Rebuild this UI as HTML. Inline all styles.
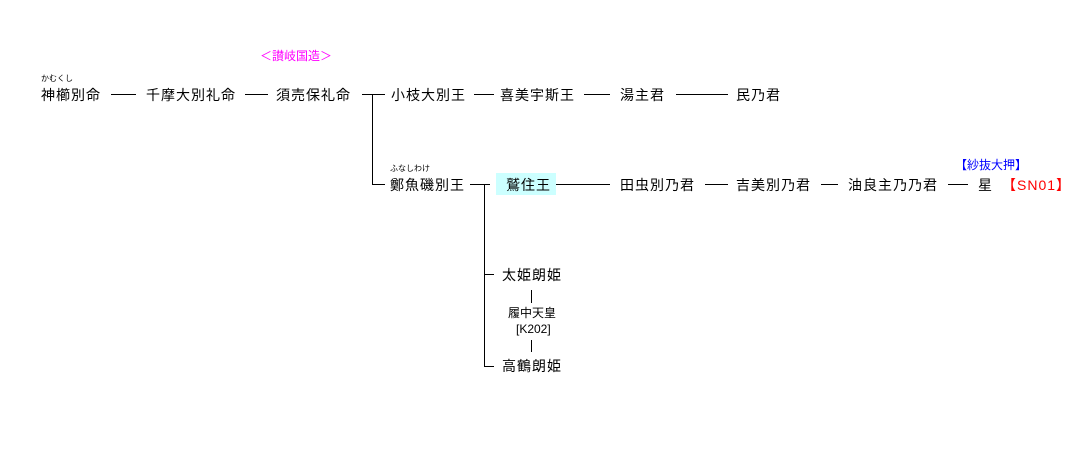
<!DOCTYPE html>
<html><head><meta charset="utf-8"><style>
body{margin:0;width:1070px;height:454px;background:#fff;position:relative;overflow:hidden;font-family:"Liberation Sans","Noto Sans CJK JP",sans-serif;color:#000}
.t{position:absolute;font-size:14px;letter-spacing:1px;line-height:16px;white-space:nowrap}
.s{position:absolute;font-size:12px;line-height:13px;white-space:nowrap}
.r{position:absolute;font-size:8px;line-height:9px;white-space:nowrap}
.h{position:absolute;height:1px;background:#000}
.v{position:absolute;width:1px;background:#000}
</style></head><body>
<div class="s" style="left:260px;top:50px;color:#f0f">＜讃岐国造＞</div>
<div class="r" style="left:41px;top:74px">かむくし</div>
<div class="t" style="left:41px;top:87px">神櫛別命</div>
<div class="h" style="left:111px;top:94px;width:25px"></div>
<div class="t" style="left:146px;top:87px">千摩大別礼命</div>
<div class="h" style="left:245px;top:94px;width:23px"></div>
<div class="t" style="left:276px;top:87px">須売保礼命</div>
<div class="h" style="left:362px;top:94px;width:23px"></div>
<div class="v" style="left:372px;top:94px;height:91px"></div>
<div class="t" style="left:391px;top:87px">小枝大別王</div>
<div class="h" style="left:474px;top:94px;width:20px"></div>
<div class="t" style="left:500px;top:87px">喜美宇斯王</div>
<div class="h" style="left:584px;top:94px;width:26px"></div>
<div class="t" style="left:620px;top:87px">湯主君</div>
<div class="h" style="left:676px;top:94px;width:52px"></div>
<div class="t" style="left:736px;top:87px">民乃君</div>

<div class="h" style="left:372px;top:184px;width:13px"></div>
<div class="r" style="left:390px;top:164px">ふなしわけ</div>
<div class="t" style="left:390px;top:177px">鄭魚磯別王</div>
<div class="h" style="left:470px;top:184px;width:20px"></div>
<div style="position:absolute;left:496px;top:173px;width:60px;height:22px;background:#ccffff"></div>
<div class="t" style="left:506px;top:177px">鷲住王</div>
<div class="h" style="left:556px;top:184px;width:54px"></div>
<div class="t" style="left:620px;top:177px">田虫別乃君</div>
<div class="h" style="left:705px;top:184px;width:23px"></div>
<div class="t" style="left:736px;top:177px">吉美別乃君</div>
<div class="h" style="left:821px;top:184px;width:17px"></div>
<div class="t" style="left:848px;top:177px">油良主乃乃君</div>
<div class="h" style="left:948px;top:184px;width:20px"></div>
<div class="s" style="left:955px;top:159px;color:#00f">【紗抜大押】</div>
<div class="t" style="left:978px;top:177px">星</div>
<div class="t" style="left:1002px;top:177px;color:#f00">【SN01】</div>

<div class="v" style="left:484px;top:184px;height:183px"></div>
<div class="h" style="left:484px;top:274px;width:10px"></div>
<div class="t" style="left:502px;top:267px">太姫朗姫</div>
<div class="v" style="left:531px;top:290px;height:13px"></div>
<div class="s" style="left:508px;top:307px">履中天皇</div>
<div class="s" style="left:516px;top:323px">[K202]</div>
<div class="v" style="left:531px;top:340px;height:12px"></div>
<div class="h" style="left:484px;top:366px;width:10px"></div>
<div class="t" style="left:502px;top:358px">高鶴朗姫</div>
</body></html>
